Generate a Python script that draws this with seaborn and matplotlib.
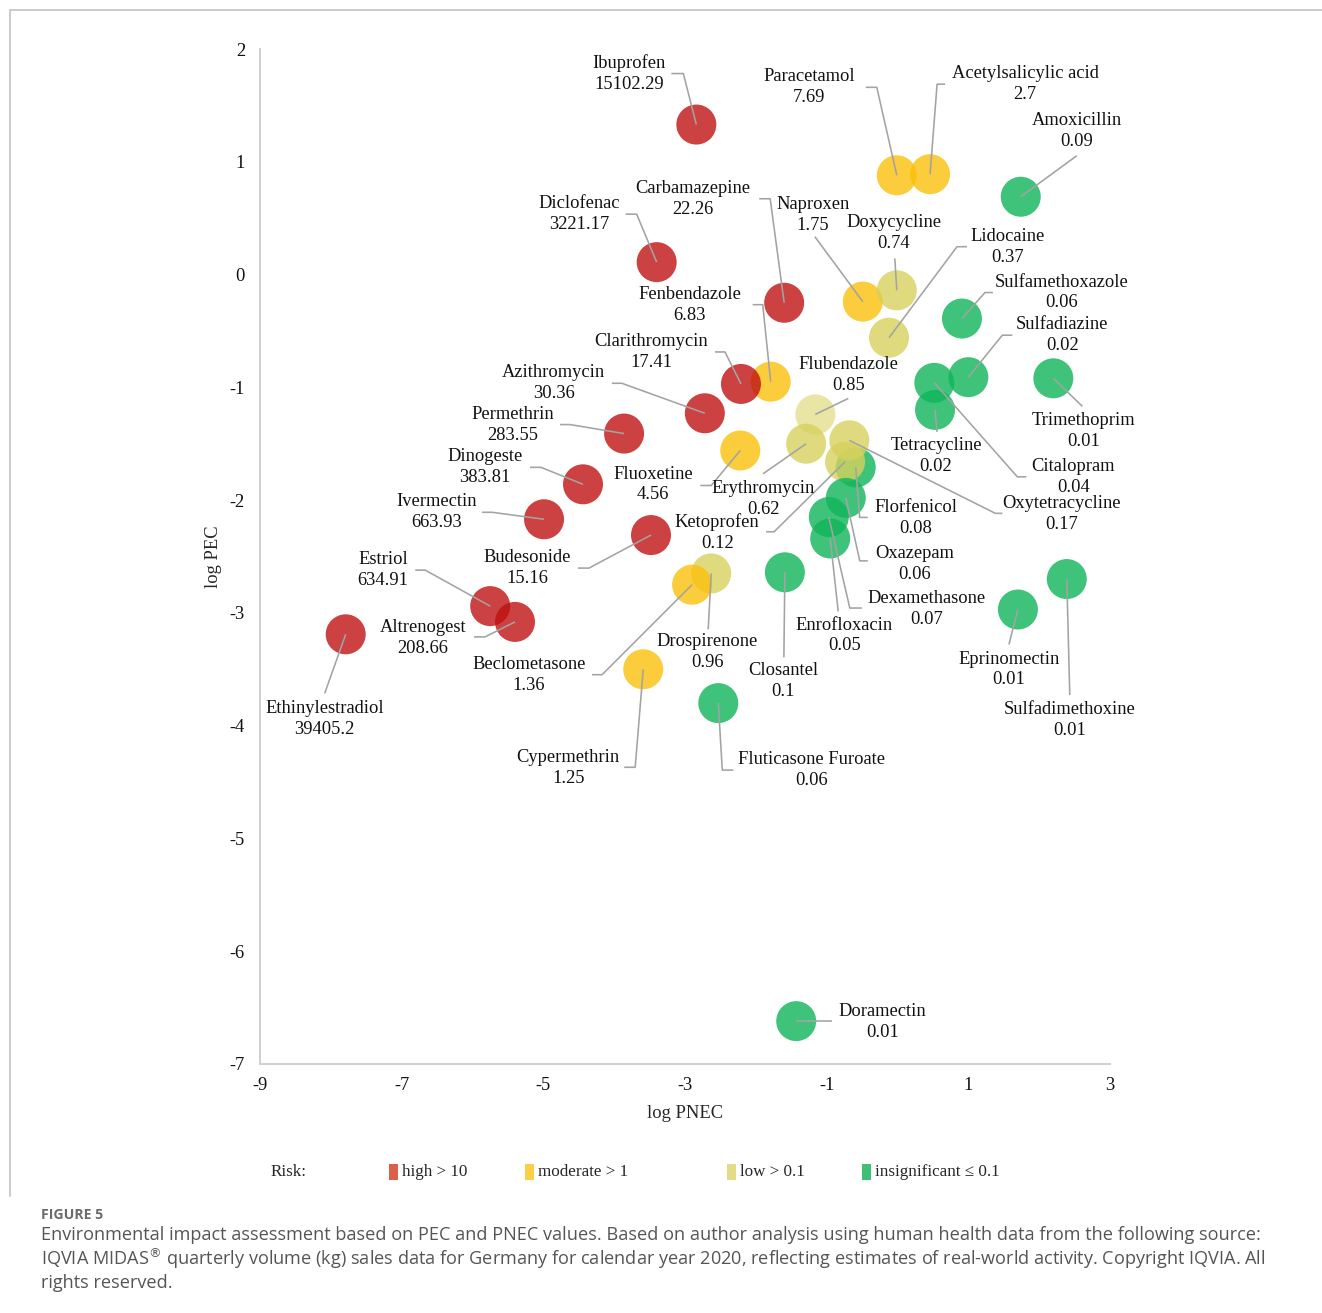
import numpy as np
import pandas as pd
import matplotlib
matplotlib.use("Agg")
import matplotlib.pyplot as plt
import seaborn as sns
from matplotlib.lines import Line2D
from matplotlib.patches import Rectangle

# ---------------------------------------------------------------- data
compounds = [
    "Ibuprofen", "Paracetamol", "Acetylsalicylic acid", "Amoxicillin",
    "Carbamazepine", "Diclofenac", "Naproxen", "Doxycycline", "Lidocaine",
    "Sulfamethoxazole", "Fenbendazole", "Sulfadiazine", "Clarithromycin",
    "Azithromycin", "Permethrin", "Tetracycline", "Trimethoprim",
    "Dinogeste", "Fluoxetine", "Erythromycin", "Citalopram", "Florfenicol",
    "Oxytetracycline", "Ivermectin", "Ketoprofen", "Budesonide", "Oxazepam",
    "Estriol", "Dexamethasone", "Enrofloxacin", "Altrenogest",
    "Drospirenone", "Beclometasone", "Eprinomectin", "Closantel",
    "Ethinylestradiol", "Sulfadimethoxine", "Fluticasone Furoate",
    "Cypermethrin", "Doramectin", "Flubendazole",
]
log_pnec = [
    -2.84, -0.01, 0.46, 1.74,
    -1.60, -3.40, -0.49, -0.01, -0.12,
    0.91, -1.79, 1.00, -2.21,
    -2.72, -3.86, 0.53, 2.20,
    -4.44, -2.22, -1.29, 0.52, -0.59,
    -0.68, -4.99, -0.74, -3.48, -0.73,
    -5.75, -0.97, -0.95, -5.40,
    -2.63, -2.90, 1.70, -1.59,
    -7.79, 2.39, -2.53,
    -3.59, -1.43, -1.16,
]
log_pec = [
    1.33, 0.88, 0.89, 0.69,
    -0.25, 0.11, -0.24, -0.14, -0.56,
    -0.39, -0.95, -0.91, -0.97,
    -1.23, -1.41, -1.20, -0.92,
    -1.86, -1.56, -1.50, -0.96, -1.71,
    -1.47, -2.17, -1.66, -2.31, -1.98,
    -2.94, -2.15, -2.34, -3.08,
    -2.65, -2.75, -2.97, -2.64,
    -3.19, -2.70, -3.80,
    -3.50, -6.62, -1.24,
]
risk_quotient = [
    "15102.29", "7.69", "2.7", "0.09",
    "22.26", "3221.17", "1.75", "0.74", "0.37",
    "0.06", "6.83", "0.02", "17.41",
    "30.36", "283.55", "0.02", "0.01",
    "383.81", "4.56", "0.62", "0.04", "0.08",
    "0.17", "663.93", "0.12", "15.16", "0.06",
    "634.91", "0.07", "0.05", "208.66",
    "0.96", "1.36", "0.01", "0.1",
    "39405.2", "0.01", "0.06",
    "1.25", "0.01", "0.85",
]
risk_class = [
    "high", "moderate", "moderate", "insignificant",
    "high", "high", "moderate", "low", "low",
    "insignificant", "moderate", "insignificant", "high",
    "high", "high", "insignificant", "insignificant",
    "high", "moderate", "low", "insignificant", "insignificant",
    "low", "high", "low", "high", "insignificant",
    "high", "insignificant", "insignificant", "high",
    "low", "moderate", "insignificant", "insignificant",
    "high", "insignificant", "insignificant",
    "moderate", "insignificant", "low",
]
risk_levels = ["high", "moderate", "low", "insignificant"]
risk_legend = ["high > 10", "moderate > 1", "low > 0.1", "insignificant \u2264 0.1"]
x_ticks = [-9, -7, -5, -3, -1, 1, 3]
y_ticks = [-7, -6, -5, -4, -3, -2, -1, 0, 1, 2]

df = pd.DataFrame({
    "compound": compounds,
    "log_pnec": log_pnec,
    "log_pec": log_pec,
    "rq": risk_quotient,
    "risk": risk_class,
})

# ---------------------------------------------------------------- styles
marker_colors = {"high": "#c01111", "moderate": "#fbc00b",
                 "low": "#d6d15c", "insignificant": "#0fb55a"}
legend_colors = {"high": "#dc5f49", "moderate": "#fdcf45",
                 "low": "#e1dc85", "insignificant": "#3dbf78"}

# label layout: text-centre offset and leader-line vertices, in points
# relative to each marker (x right, y up)
label_layout = {
    "Ibuprofen": ((-67, 51), [(-13, 51), (-25, 51)]),
    "Paracetamol": ((-88, 88), [(-20, 88), (-31, 88)]),
    "Acetylsalicylic acid": ((95, 90), [(7, 90), (15, 90)]),
    "Amoxicillin": ((56, 66), [(56, 41)]),
    "Carbamazepine": ((-91, 104), [(-14, 104), (-25, 104)]),
    "Diclofenac": ((-77, 48), [(-20, 48), (-31, 48)]),
    "Naproxen": ((-50, 87), [(-48, 65)]),
    "Doxycycline": ((-3, 57), [(-2, 32)]),
    "Lidocaine": ((119, 91), [(68, 91), (78, 91)]),
    "Sulfamethoxazole": ((100, 26), [(23, 26), (31, 26)]),
    "Fenbendazole": ((-81, 77), [(-8, 77), (-18, 77)]),
    "Sulfadiazine": ((94, 42), [(34, 42), (44, 42)]),
    "Clarithromycin": ((-90, 32), [(-16, 32), (-26, 32)]),
    "Flubendazole": ((33, 39), [(33, 16)]),
    "Azithromycin": ((-151, 30), [(-83, 30), (-93, 30)]),
    "Permethrin": ((-111, 9), [(-54, 9), (-64, 9)]),
    "Tetracycline": ((1, -46), [(2, -22)]),
    "Trimethoprim": ((30, -53), [(29, -28)]),
    "Dinogeste": ((-98, 17), [(-42, 17), (-53, 17)]),
    "Fluoxetine": ((-87, -34), [(-29, -35), (-40, -35)]),
    "Erythromycin": ((-43, -55), [(-43, -30)]),
    "Citalopram": ((139, -94), [(83, -94), (92, -94)]),
    "Oxytetracycline": ((212, -74), [(146, -73), (153, -73)]),
    "Ivermectin": ((-107, 7), [(-52, 7), (-62, 7)]),
    "Florfenicol": ((60, -51), [(4, -50), (12, -50)]),
    "Ketoprofen": ((-128, -71), [(-71, -70), (-79, -70)]),
    "Budesonide": ((-124, -33), [(-62, -33), (-73, -33)]),
    "Oxazepam": ((69, -66), [(14, -63), (22, -63)]),
    "Estriol": ((-107, 36), [(-65, 36), (-75, 36)]),
    "Dexamethasone": ((98, -92), [(21, -91), (33, -91)]),
    "Enrofloxacin": ((14, -97), [(8, -73)]),
    "Altrenogest": ((-92, -16), [(-30, -15), (-41, -15)]),
    "Drospirenone": ((-4, -79), [(-3, -56)]),
    "Beclometasone": ((-163, -90), [(-90, -90), (-100, -90)]),
    "Eprinomectin": ((-9, -60), [(-9, -35)]),
    "Closantel": ((-2, -109), [(-1, -85)]),
    "Ethinylestradiol": ((-21, -85), [(-21, -59)]),
    "Sulfadimethoxine": ((3, -141), [(3, -116)]),
    "Fluticasone Furoate": ((93, -67), [(4, -67), (15, -67)]),
    "Cypermethrin": ((-75, -99), [(-8, -98), (-19, -98)]),
    "Doramectin": ((86, -1), [(36, 0)]),
}

sns.set_style("white")
plt.rcParams["font.family"] = ["Liberation Serif", "DejaVu Serif"]
plt.rcParams["axes.unicode_minus"] = False

W, H = 1322, 1313
fig = plt.figure(figsize=(W / 72, H / 72), dpi=72)
fig.patch.set_facecolor("white")
ax = fig.add_axes([260 / W, 1 - 1064 / H, 850 / W, 1015 / H])

main = df[df["compound"] != "Flubendazole"]
faded = df[df["compound"] == "Flubendazole"]
sns.scatterplot(data=main, x="log_pnec", y="log_pec", hue="risk",
                hue_order=risk_levels, palette=marker_colors, s=1600,
                alpha=0.8, edgecolor="none", linewidth=0, legend=False,
                ax=ax, zorder=2)
sns.scatterplot(data=faded, x="log_pnec", y="log_pec", hue="risk",
                hue_order=risk_levels, palette=marker_colors, s=1600,
                alpha=0.55, edgecolor="none", linewidth=0, legend=False,
                ax=ax, zorder=2)

ax.set_xlim(-9, 3)
ax.set_ylim(-7, 2)
ax.set_xticks(x_ticks)
ax.set_yticks(y_ticks)
ax.set_xticklabels([str(t) for t in x_ticks])
ax.set_yticklabels([str(t) for t in y_ticks])
ax.tick_params(axis="both", length=0, labelsize=18.5, colors="#111111")
ax.tick_params(axis="y", pad=15)
ax.tick_params(axis="x", pad=13)
for side in ("top", "right"):
    ax.spines[side].set_visible(False)
for side in ("left", "bottom"):
    ax.spines[side].set_color("#d0d0d0")
    ax.spines[side].set_linewidth(2)
ax.set_xlabel("log PNEC", fontsize=18.5, va="center", ha="center")
ax.set_ylabel("log PEC", fontsize=18.5, va="center", ha="center")
ax.xaxis.set_label_coords(0.5, -(1113 - 1064) / 1015)
ax.yaxis.set_label_coords(-(260 - 213) / 850, 0.5)
ax.grid(False)

# labels with leader lines, positioned relative to each marker
to_data = ax.transData.inverted()
for _, row in df.iterrows():
    (tdx, tdy), verts = label_layout[row["compound"]]
    px, py = ax.transData.transform((row["log_pnec"], row["log_pec"]))
    path = [(px, py)] + [(px + vx, py + vy) for vx, vy in verts]
    pts = to_data.transform(path)
    ax.plot(pts[:, 0], pts[:, 1], color="#a3a3a3", lw=1.6, zorder=3,
            solid_capstyle="butt", clip_on=False)
    tx, ty = to_data.transform((px + tdx, py + tdy))
    ax.text(tx, ty, f"{row['compound']}\n{row['rq']}", ha="center",
            va="center", fontsize=18.5, linespacing=1.3, color="#111111",
            zorder=4)

# risk legend
ly = 1 - 1172 / H
fig.text(271 / W, ly, "Risk:", fontsize=17, ha="left", va="center")
legend_x = [389, 525, 727, 862]
for lvl, txt, lx in zip(risk_levels, risk_legend, legend_x):
    fig.patches.append(Rectangle((lx / W, 1 - 1180 / H), 9 / W, 16 / H,
                                 transform=fig.transFigure,
                                 facecolor=legend_colors[lvl],
                                 edgecolor="none"))
    fig.text((lx + 13) / W, ly, txt, fontsize=17, ha="left", va="center")

# panel frame
fig.add_artist(Line2D([10 / W, 1.0], [1 - 10 / H, 1 - 10 / H],
                      transform=fig.transFigure, color="#cccccc", lw=2))
fig.add_artist(Line2D([10 / W, 10 / W], [1 - 10 / H, 1 - 1196 / H],
                      transform=fig.transFigure, color="#cccccc", lw=2))

# caption
fig.text(41 / W, 1 - 1215 / H, "FIGURE 5", fontsize=14, fontweight="bold",
         family="Open Sans", color="#6b6b6b", ha="left", va="center")
caption = [
    "Environmental impact assessment based on PEC and PNEC values. Based on author analysis using human health data from the following source:",
    r"IQVIA MIDAS$^{\circledR}$ quarterly volume (kg) sales data for Germany for calendar year 2020, reflecting estimates of real-world activity. Copyright IQVIA. All",
    "rights reserved.",
]
for i, line in enumerate(caption):
    fig.text(41 / W, 1 - (1235 + 24 * i) / H, line, fontsize=18.1,
             family="Open Sans", color="#555555", ha="left", va="center")

fig.savefig("out.png", dpi=72, facecolor="white")
